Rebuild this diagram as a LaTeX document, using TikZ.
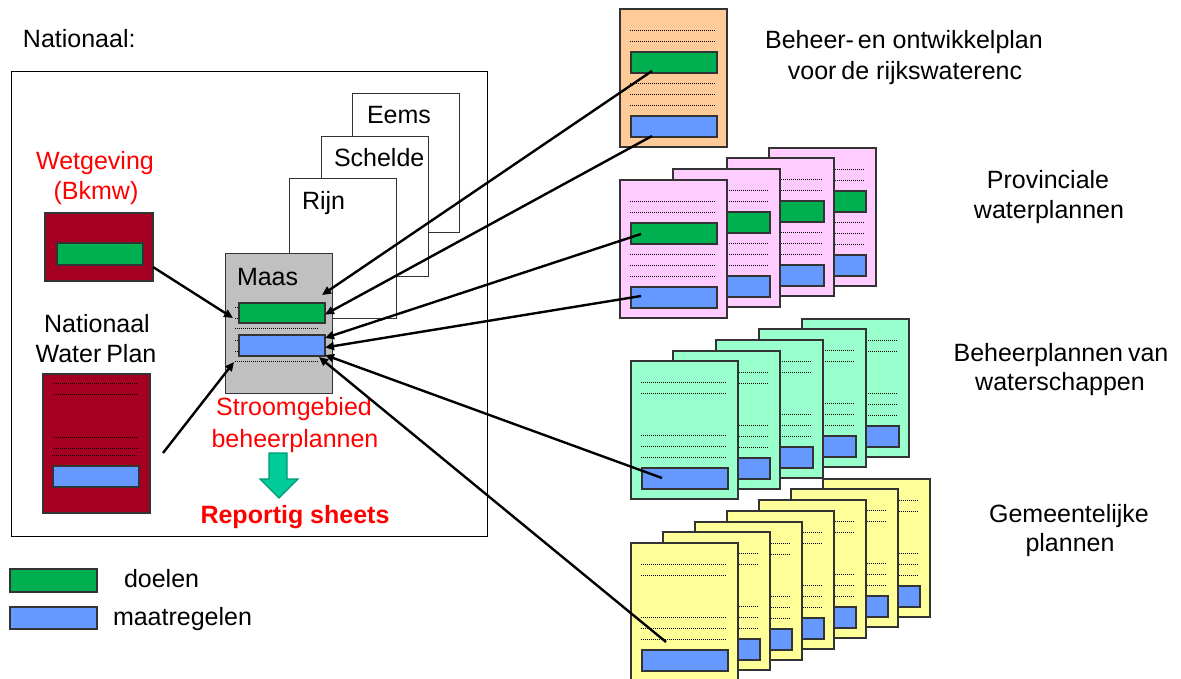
\documentclass[tikz,border=0pt]{standalone}
\usepackage{fontspec}
\setmainfont{Liberation Sans}
\usetikzlibrary{calc,arrows.meta}
\definecolor{dred}{HTML}{A50021}
\definecolor{bgreen}{HTML}{00B050}
\definecolor{bblue}{HTML}{6699FF}
\definecolor{orng}{HTML}{FFCC99}
\definecolor{pnk}{HTML}{FFCCFF}
\definecolor{mint}{HTML}{99FFCC}
\definecolor{ylw}{HTML}{FFFF99}
\definecolor{maasgray}{HTML}{C0C0C0}
\definecolor{arrgreen}{HTML}{00CC99}
\definecolor{arredge}{HTML}{009973}
\definecolor{docedge}{HTML}{333333}
\definecolor{redtext}{HTML}{FF0000}
\tikzset{
  txt/.style={anchor=base, inner sep=0pt, outer sep=0pt, font=\fontsize{25}{30}\selectfont},
  txtl/.style={txt, anchor=base west},
  redtxt/.style={txt, text=redtext},
  docbox/.style={draw=docedge, line width=1.2pt, minimum width=107pt, minimum height=138pt, inner sep=0pt, outer sep=0pt, anchor=north west},
  page/.style={draw=docedge, line width=1pt, fill=white, minimum width=107pt, minimum height=139pt, inner sep=0pt, outer sep=0pt, anchor=north west},
  bar/.style={draw=docedge, line width=1.2pt, minimum width=86pt, minimum height=21pt, inner sep=0pt, outer sep=0pt, anchor=north west},
  goal/.style={bar, fill=bgreen},
  measure/.style={bar, fill=bblue},
  dotline/.style={line width=0.9pt, dash pattern=on 0.7pt off 1.3pt},
  conn/.style={line width=2.4pt, -{Triangle[length=9pt,width=8pt]}},
  blockarrow/.style={fill=arrgreen, draw=arredge, line width=1.2pt, line join=miter},
}
\newcommand{\plandoc}[5]{%
  \node[docbox, fill=#4] (#1) at (#2,#3) {};
  \foreach \dy in {21,32,74,85,96}{\draw[dotline] ($(#1.north west)+(10,\dy)$) -- ++(85,0);}
  \ifnum#5=1 \node[goal] (#1g) at ($(#1.north west)+(11,43)$) {};\fi
  \node[measure] (#1b) at ($(#1.north west)+(11,107)$) {};
}
\begin{document}
\begin{tikzpicture}[x=1pt,y=-1pt]
\useasboundingbox (0,0) rectangle (1181,679);
% national frame
\node[draw=black, line width=1pt, minimum width=476pt, minimum height=464pt, inner sep=0pt, outer sep=0pt, anchor=north west] (natbox) at (11,72) {};
\node[txtl] (nattitle) at (23,48) {Nationaal:};
% Wetgeving
\node[redtxt] (wet1) at (95,170) {Wetgeving};
\node[redtxt] (wet2) at (96,200) {(Bkmw)};
\node[draw=docedge, line width=1.2pt, fill=dred, minimum width=108pt, minimum height=68pt, inner sep=0pt, outer sep=0pt, anchor=north west] (wetbox) at (45,213) {};
\node[goal, minimum height=22pt] (wetg) at (57,243) {};
% Nationaal Water Plan
\node[txt] (nwp1) at (97,332) {Nationaal};
\node[txt] (nwp2) at (96,362) {Water\hspace{-2pt} Plan};
\node[docbox, fill=dred, minimum height=139pt] (nwp) at (43,374) {};
\foreach \y in {383,394,437,448}{\draw[dotline] (54,\y) -- (138,\y);}
\draw[dotline] (52,455) -- (136,455);
\node[measure] (nwpb) at (53,466) {};
% river basin pages
\node[page] (eems) at (352,94) {};
\node[txtl] (eemst) at (367,124) {Eems};
\node[page] (schelde) at (321,137) {};
\node[txtl] (scheldet) at (334,167) {Schelde};
\node[page] (rijn) at (289,179) {};
\node[txtl] (rijnt) at (302,210) {Rijn};
\node[page, fill=maasgray] (maas) at (225,254) {};
\node[txtl] (maast) at (237,285) {Maas};
\foreach \y in {307,318,328,340,351,361}{\draw[dotline] (235,\y) -- (318,\y);}
\node[goal, minimum height=20pt] (maasg) at (239,303) {};
\node[measure] (maasb) at (239,335) {};
\node[redtxt] (sg1) at (294,415) {Stroomgebied};
\node[redtxt] (sg2) at (295,447) {beheerplannen};
\draw[blockarrow] (269,453) -- (287,453) -- (287,479) -- (298,479) -- (279,498) -- (260,479) -- (269,479) -- cycle;
\node[redtxt, font=\fontsize{25}{30}\selectfont\bfseries] (rep) at (295,523) {Reportig sheets};
% legend
\node[goal, minimum width=87pt, minimum height=23pt] (leggoal) at (10,569) {};
\node[txtl] (legg) at (124,587) {doelen};
\node[measure, minimum width=87pt, minimum height=22pt] (legmeas) at (10,607) {};
\node[txtl] (legm) at (113,625) {maatregelen};
% Rijkswateren
\plandoc{rws}{620}{9}{orng}{1}
\node[txt] (rwst1) at (904,49) {Beheer-\hspace{-3pt} en ontwikkelplan};
\node[txt] (rwst2) at (905,80) {voor\hspace{-2pt} de rijkswaterenc};
% provinces
\plandoc{provD}{769}{148}{pnk}{1}
\plandoc{provC}{727}{158}{pnk}{1}
\plandoc{provB}{673}{169}{pnk}{1}
\plandoc{provA}{620}{180}{pnk}{1}
\node[txt] (prov1) at (1048,189) {Provinciale};
\node[txt] (prov2) at (1049,219) {waterplannen};
% water boards
\plandoc{wsE}{802}{319}{mint}{0}
\plandoc{wsD}{759}{329}{mint}{0}
\plandoc{wsC}{716}{340}{mint}{0}
\plandoc{wsB}{673}{351}{mint}{0}
\plandoc{wsA}{631}{361}{mint}{0}
\node[txt] (ws1) at (1061,361) {Beheerplannen\hspace{-2pt} van};
\node[txt] (ws2) at (1060,390) {waterschappen};
% municipalities
\plandoc{gemG}{823}{479}{ylw}{0}
\plandoc{gemF}{791}{489}{ylw}{0}
\plandoc{gemE}{759}{500}{ylw}{0}
\plandoc{gemD}{727}{511}{ylw}{0}
\plandoc{gemC}{695}{522}{ylw}{0}
\plandoc{gemB}{663}{532}{ylw}{0}
\plandoc{gemA}{631}{543}{ylw}{0}
\node[txt] (gem1) at (1069,522) {Gemeentelijke};
\node[txt] (gem2) at (1070,551) {plannen};
% connectors
\draw[conn] ($(wetbox.south east)+(0,-14)$) -- ($(maasg.south west)+(-6,-5)$);
\draw[conn] ($(nwp.north east)+(13,79)$) -- ($(maasb.south west)+(-5,6)$);
\draw[conn] ($(rwsg.south west)+(21,-2)$) -- ($(maasg.north east)+(-3,-8)$);
\draw[conn] ($(rwsb.south west)+(21,-1)$) -- ($(maasg.east)+(0,1.5)$);
\draw[conn] ($(provAg.west)+(10,0.5)$) -- ($(maasb.north east)+(0,3)$);
\draw[conn] ($(provAb.west)+(10,-1.5)$) -- ($(maasb.east)+(0,2)$);
\draw[conn] ($(wsAb.west)+(20,-0.5)$) -- ($(maasb.south east)+(0,-1)$);
\draw[conn] ($(gemA.north west)+(35,99)$) -- ($(maasb.south east)+(-6,1)$);
\end{tikzpicture}
\end{document}
